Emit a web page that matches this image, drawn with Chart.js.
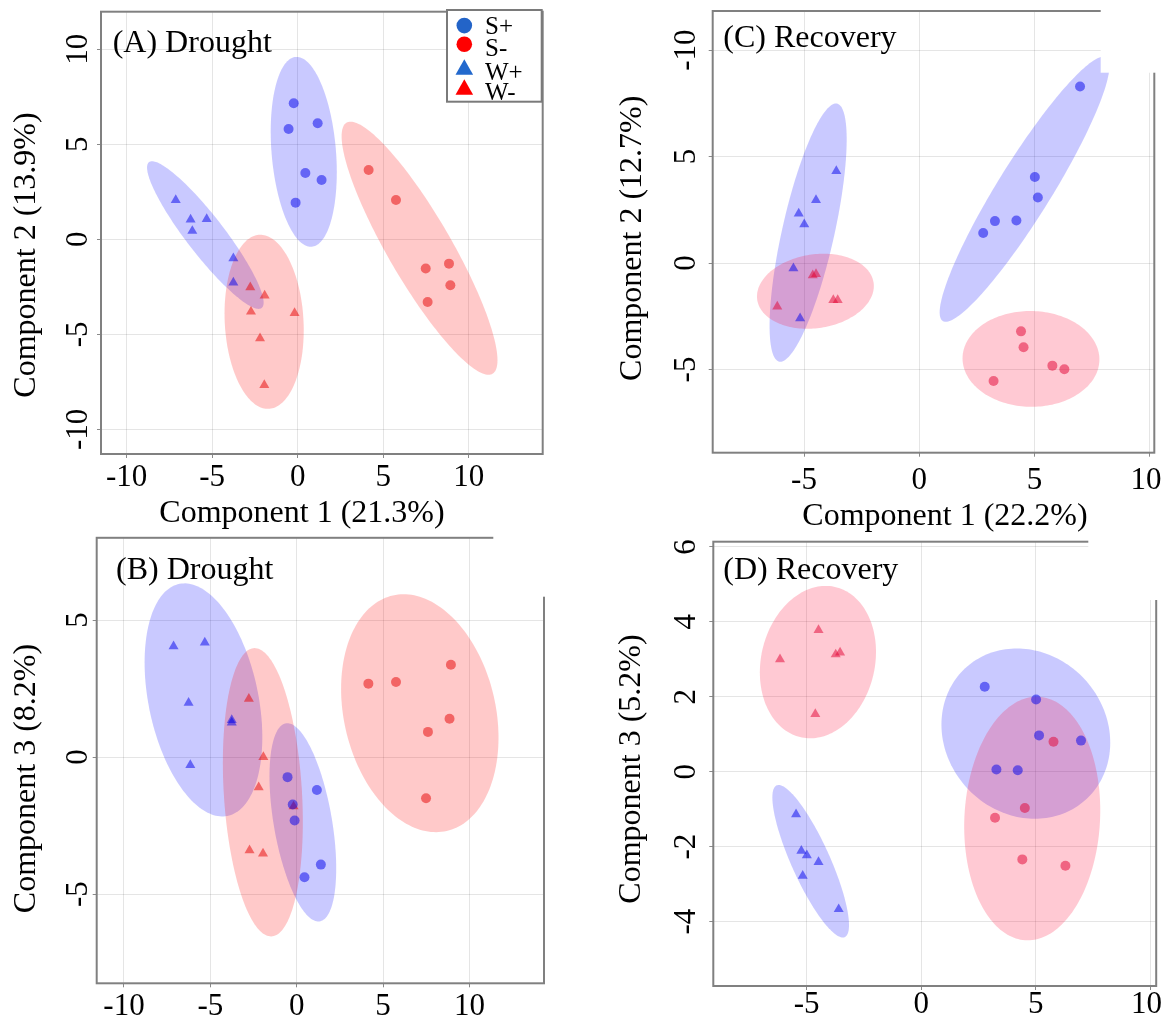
<!DOCTYPE html>
<html>
<head>
<meta charset="utf-8">
<script src="https://cdn.jsdelivr.net/npm/chart.js@4.4.1/dist/chart.umd.min.js"></script>
<style>
  html, body { margin: 0; padding: 0; background: #fff; }
  body { width: 1162px; height: 1026px; position: relative; overflow: hidden; }
  canvas { position: absolute; }
</style>
</head>
<body>
<canvas id="cA" width="570" height="532" style="left:0px;top:0px"></canvas>
<canvas id="cB" width="570" height="494" style="left:0px;top:532px"></canvas>
<canvas id="cC" width="582" height="532" style="left:580px;top:0px"></canvas>
<canvas id="cD" width="582" height="494" style="left:580px;top:532px"></canvas>
<script>
// ---------------- DATA ----------------
const groupLabels = ['S+', 'S-', 'W+', 'W-'];

// Drought: sample scores on components 1, 2, 3
const dr_Sp_c1 = [-0.23, -0.53, 1.17, 0.45, 1.40, -0.12];
const dr_Sp_c2 = [7.16, 5.81, 6.11, 3.49, 3.12, 1.93];
const dr_Sp_c3 = [-1.73, -0.73, -1.20, -4.38, -3.92, -2.31];
const dr_Sm_c1 = [4.15, 5.75, 7.49, 8.85, 8.93, 7.60];
const dr_Sm_c2 = [3.65, 2.07, -1.54, -1.28, -2.42, -3.30];
const dr_Sm_c3 = [2.68, 2.74, -1.50, 1.40, 3.37, 0.92];
const dr_Wp_c1 = [-7.13, -6.26, -5.32, -6.16, -3.76, -3.76];
const dr_Wp_c2 = [2.07, 1.04, 1.07, 0.44, -1.00, -2.28];
const dr_Wp_c3 = [4.04, 1.98, 4.18, -0.29, 1.35, 1.26];
const dr_Wm_c1 = [-2.77, -1.93, -2.73, -0.18, -2.20, -1.95];
const dr_Wm_c2 = [-2.53, -2.96, -3.81, -3.88, -5.21, -7.67];
const dr_Wm_c3 = [2.13, 0.00, -3.40, -1.80, -1.10, -3.52];

// Recovery: sample scores on components 1, 2, 3
const rc_Sp_c1 = [6.97, 5.01, 5.14, 3.28, 4.21, 2.77];
const rc_Sp_c2 = [8.29, 4.04, 3.08, 1.97, 2.00, 1.41];
const rc_Sp_c3 = [0.83, 1.93, 0.97, 0.06, 0.04, 2.27];
const rc_Sm_c1 = [4.41, 4.52, 5.77, 6.29, 3.22];
const rc_Sm_c2 = [-3.21, -3.96, -4.82, -4.99, -5.54];
const rc_Sm_c3 = [-2.34, -0.97, 0.80, -2.51, -1.23];
const rc_Wp_c1 = [-3.60, -4.48, -5.23, -4.99, -5.46, -5.17];
const rc_Wp_c2 = [4.32, 2.96, 2.32, 1.82, -0.25, -2.60];
const rc_Wp_c3 = [-3.67, -2.41, -2.11, -2.23, -1.14, -2.78];
const rc_Wm_c1 = [-6.16, -4.62, -4.48, -3.73, -3.54];
const rc_Wm_c2 = [-2.05, -0.58, -0.52, -1.74, -1.74];
const rc_Wm_c3 = [3.00, 1.54, 3.78, 3.13, 3.18];

// Tick values and labels
const ticksDrought_x = [-10, -5, 0, 5, 10];
const ticksA_y = [-10, -5, 0, 5, 10];
const ticksB_y = [-5, 0, 5];
const ticksRecovery_x = [-5, 0, 5, 10];
const tickLabelsRecovery_x = ['-5', '0', '5', '10 '];
const ticksC_y = [-5, 0, 5, 10];
const tickLabelsC_y = ['-5', '0', '5', '-10'];
const ticksD_y = [-4, -2, 0, 2, 4, 6];

const panelTitles = ['(A) Drought', '(B) Drought', '(C) Recovery', '(D) Recovery'];
const axisTitles = ['Component 1 (21.3%)', 'Component 2 (13.9%)', 'Component 3 (8.2%)',
                    'Component 1 (22.2%)', 'Component 2 (12.7%)', 'Component 3 (5.2%)'];

// ---------------- STYLE ----------------
const FAMILY = '"Liberation Serif", "Times New Roman", serif';
Chart.defaults.font.family = FAMILY;
const TICK_FONT = 31;
const GRID = 'rgba(0,0,0,0.10)';
const FRAME = '#808080';
const BLUE_PT = 'rgba(0,0,235,0.5)', BLUE_FILL = 'rgba(0,0,255,0.21)';
const RED_D_PT = 'rgba(230,0,0,0.5)', RED_D_FILL = 'rgba(255,0,0,0.21)';
const RED_R_PT = 'rgba(225,0,50,0.5)', RED_R_FILL = 'rgba(255,0,45,0.21)';

const CHI95 = Math.sqrt(5.991464547); // 95% ellipse, 2 df

const measCtx = document.createElement('canvas').getContext('2d');
function widest(labels) {
  measCtx.font = TICK_FONT + 'px ' + FAMILY;
  return Math.max(...labels.map(l => measCtx.measureText(l).width));
}

const ellipsePlugin = {
  id: 'confEllipses',
  beforeDatasetsDraw(chart) {
    const { ctx, chartArea: a, scales: { x, y } } = chart;
    ctx.save();
    ctx.beginPath();
    ctx.rect(a.left, a.top, a.right - a.left, a.bottom - a.top);
    ctx.clip();
    chart.data.datasets.forEach(ds => {
      const p = ds.data, n = p.length;
      let mx = 0, my = 0;
      p.forEach(q => { mx += q.x; my += q.y; });
      mx /= n; my /= n;
      let sxx = 0, syy = 0, sxy = 0;
      p.forEach(q => { sxx += (q.x - mx) ** 2; syy += (q.y - my) ** 2; sxy += (q.x - mx) * (q.y - my); });
      sxx /= (n - 1); syy /= (n - 1); sxy /= (n - 1);
      const l11 = Math.sqrt(sxx), l21 = sxy / l11, l22 = Math.sqrt(Math.max(syy - l21 * l21, 0));
      ctx.beginPath();
      const N = 180;
      for (let k = 0; k <= N; k++) {
        const t = 2 * Math.PI * k / N, u = Math.cos(t), v = Math.sin(t);
        const px = x.getPixelForValue(mx + CHI95 * l11 * u);
        const py = y.getPixelForValue(my + CHI95 * (l21 * u + l22 * v));
        if (k === 0) ctx.moveTo(px, py); else ctx.lineTo(px, py);
      }
      ctx.closePath();
      ctx.fillStyle = ds.ellipseColor;
      ctx.fill();
    });
    ctx.restore();
  }
};

const decorPlugin = {
  id: 'decor',
  afterDraw(chart) {
    const spec = chart.config.options.panelSpec;
    const { ctx, chartArea: a } = chart;
    ctx.save();
    // frame
    ctx.strokeStyle = FRAME; ctx.lineWidth = 2;
    ctx.strokeRect(a.left, a.top, a.right - a.left, a.bottom - a.top);
    // white patch in the top-right corner
    if (spec.notch) {
      ctx.fillStyle = '#fff';
      ctx.fillRect(spec.notch[0], spec.notch[1], spec.notch[2], spec.notch[3]);
    }
    // legend
    if (spec.legend) {
      const L = spec.legend;
      ctx.fillStyle = '#fff';
      ctx.fillRect(L.x, L.y, L.w, L.h);
      ctx.strokeStyle = '#7a7a7a'; ctx.lineWidth = 2;
      ctx.strokeRect(L.x, L.y, L.w, L.h);
      const cols = ['rgb(35,100,200)', 'rgb(255,0,0)', 'rgb(35,105,205)', 'rgb(255,0,0)'];
      ctx.font = '25px ' + FAMILY;
      ctx.textAlign = 'left'; ctx.textBaseline = 'alphabetic';
      groupLabels.forEach((lab, i) => {
        const cy = L.markY[i];
        ctx.fillStyle = cols[i];
        ctx.beginPath();
        if (i < 2) {
          ctx.arc(L.markX, cy, 7.8, 0, Math.PI * 2);
        } else {
          ctx.moveTo(L.markX, cy - 9);
          ctx.lineTo(L.markX + 8.8, cy + 6.5);
          ctx.lineTo(L.markX - 8.8, cy + 6.5);
          ctx.closePath();
        }
        ctx.fill();
        ctx.fillStyle = '#000';
        ctx.fillText(lab, L.textX, L.textY[i]);
      });
    }
    // texts
    ctx.fillStyle = '#000';
    ctx.font = '32px ' + FAMILY;
    ctx.textAlign = 'left'; ctx.textBaseline = 'alphabetic';
    ctx.fillText(spec.title, spec.titleX, spec.titleY);
    if (spec.xTitle) {
      ctx.textAlign = 'center';
      ctx.fillText(spec.xTitle, spec.xTitleX, spec.xTitleY);
    }
    ctx.translate(spec.yTitleX, spec.yTitleY);
    ctx.rotate(-Math.PI / 2);
    ctx.textAlign = 'center'; ctx.textBaseline = 'middle';
    ctx.fillText(spec.yTitle, 0, 0);
    ctx.restore();
  }
};

function makeDatasets(xs, ys, redPt, redFill) {
  const shapes = ['circle', 'circle', 'triangle', 'triangle'];
  const pts = [BLUE_PT, redPt, BLUE_PT, redPt];
  const fills = [BLUE_FILL, redFill, BLUE_FILL, redFill];
  return groupLabels.map((lab, g) => ({
    label: lab,
    data: xs[g].map((v, i) => ({ x: v, y: ys[g][i] })),
    pointStyle: shapes[g],
    pointRadius: shapes[g] === 'triangle' ? 5.8 : 5,
    pointHoverRadius: shapes[g] === 'triangle' ? 5.8 : 5,
    backgroundColor: pts[g],
    borderWidth: 0,
    ellipseColor: fills[g]
  }));
}

function makePanel(id, spec) {
  const cv = document.getElementById(id);
  const W = cv.width, H = cv.height, b = spec.box;
  const yLabels = spec.yTicks.map((v, i) => spec.yTickLabels ? spec.yTickLabels[i] : String(v));
  const xLabels = spec.xTicks.map((v, i) => spec.xTickLabels ? spec.xTickLabels[i] : String(v));
  const yPad = spec.yLabelDist - 4 - widest(yLabels) / 2;
  new Chart(cv, {
    type: 'scatter',
    data: { datasets: spec.datasets },
    options: {
      panelSpec: spec,
      responsive: false,
      animation: false,
      events: [],
      layout: { padding: { left: 0, bottom: 0, top: b.top, right: W - b.right } },
      plugins: { legend: { display: false }, tooltip: { enabled: false } },
      scales: {
        x: {
          type: 'linear', position: 'bottom',
          min: spec.xRange[0], max: spec.xRange[1],
          afterBuildTicks: s => { s.ticks = spec.xTicks.map(v => ({ value: v })); },
          ticks: {
            font: { size: TICK_FONT }, color: '#000', autoSkip: false,
            minRotation: 0, maxRotation: 0, padding: spec.xPad,
            callback: v => xLabels[spec.xTicks.indexOf(v)]
          },
          grid: { color: GRID, tickColor: '#8a8a8a', tickLength: 4, lineWidth: 1 },
          border: { display: false },
          afterFit: s => { s.height = H - b.bottom; s.paddingLeft = 0; s.paddingRight = 0; s.paddingTop = 0; s.paddingBottom = 0; }
        },
        y: {
          type: 'linear', position: 'left',
          min: spec.yRange[0], max: spec.yRange[1],
          afterBuildTicks: s => { s.ticks = spec.yTicks.map(v => ({ value: v })); },
          ticks: {
            font: { size: TICK_FONT }, color: '#000', autoSkip: false,
            minRotation: 90, maxRotation: 90, crossAlign: 'center', padding: yPad,
            callback: v => yLabels[spec.yTicks.indexOf(v)]
          },
          grid: { color: GRID, tickColor: '#8a8a8a', tickLength: 4, lineWidth: 1 },
          border: { display: false },
          afterFit: s => { s.width = b.left; s.paddingLeft = 0; s.paddingRight = 0; s.paddingTop = 0; s.paddingBottom = 0; }
        }
      }
    },
    plugins: [ellipsePlugin, decorPlugin]
  });
}

// Panel A: Drought, comp 1 vs comp 2
makePanel('cA', {
  datasets: makeDatasets([dr_Sp_c1, dr_Sm_c1, dr_Wp_c1, dr_Wm_c1], [dr_Sp_c2, dr_Sm_c2, dr_Wp_c2, dr_Wm_c2], RED_D_PT, RED_D_FILL),
  box: { left: 101, top: 11.7, right: 542.7, bottom: 454 },
  xRange: [-11.5, 14.33], yRange: [-11.3, 11.98],
  xTicks: ticksDrought_x, yTicks: ticksA_y,
  xPad: 1.6, yLabelDist: 21.8,
  title: panelTitles[0], titleX: 112.7, titleY: 51.7,
  xTitle: axisTitles[0], xTitleX: 302, xTitleY: 522,
  yTitle: axisTitles[1], yTitleX: 26.5, yTitleY: 255,
  legend: { x: 447, y: 10, w: 94.7, h: 91.7, markX: 464.3, markY: [25.6, 44.3, 68.3, 88.3], textX: 485, textY: [34.3, 55.7, 80, 99.5] }
});

// Panel B: Drought, comp 1 vs comp 3
makePanel('cB', {
  datasets: makeDatasets([dr_Sp_c1, dr_Sm_c1, dr_Wp_c1, dr_Wm_c1], [dr_Sp_c3, dr_Sm_c3, dr_Wp_c3, dr_Wm_c3], RED_D_PT, RED_D_FILL),
  box: { left: 96.7, top: 4, right: 544, bottom: 451.3 },
  xRange: [-11.58, 14.32], yRange: [-8.25, 8.0],
  xTicks: ticksDrought_x, yTicks: ticksB_y,
  xPad: 0.6, yLabelDist: 17.7,
  title: panelTitles[1], titleX: 116, titleY: 47.3,
  yTitle: axisTitles[2], yTitleX: 26.5, yTitleY: 246.5,
  notch: [493.3, 0, 80, 64.7]
});

// Panel C: Recovery, comp 1 vs comp 2
makePanel('cC', {
  datasets: makeDatasets([rc_Sp_c1, rc_Sm_c1, rc_Wp_c1, rc_Wm_c1], [rc_Sp_c2, rc_Sm_c2, rc_Wp_c2, rc_Wm_c2], RED_R_PT, RED_R_FILL),
  box: { left: 132.7, top: 11, right: 574.3, bottom: 452.7 },
  xRange: [-8.96, 10.19], yRange: [-8.91, 11.84],
  xTicks: ticksRecovery_x, xTickLabels: tickLabelsRecovery_x,
  yTicks: ticksC_y, yTickLabels: tickLabelsC_y,
  xPad: 5.5, yLabelDist: 26,
  title: panelTitles[2], titleX: 143.3, titleY: 46.7,
  xTitle: axisTitles[3], xTitleX: 365, xTitleY: 525,
  yTitle: axisTitles[4], yTitleX: 52.2, yTitleY: 238.3,
  notch: [520.7, 0, 70, 72.7]
});

// Panel D: Recovery, comp 1 vs comp 3
makePanel('cD', {
  datasets: makeDatasets([rc_Sp_c1, rc_Sm_c1, rc_Wp_c1, rc_Wm_c1], [rc_Sp_c3, rc_Sm_c3, rc_Wp_c3, rc_Wm_c3], RED_R_PT, RED_R_FILL),
  box: { left: 133.3, top: 9.7, right: 577.7, bottom: 454 },
  xRange: [-9.07, 10.25], yRange: [-5.72, 6.14],
  xTicks: ticksRecovery_x, xTickLabels: tickLabelsRecovery_x,
  yTicks: ticksD_y,
  xPad: -3.8, yLabelDist: 26.6,
  title: panelTitles[3], titleX: 143.3, titleY: 47.3,
  yTitle: axisTitles[5], yTitleX: 52, yTitleY: 237,
  notch: [508.3, 0, 80, 68]
});
</script>
</body>
</html>
